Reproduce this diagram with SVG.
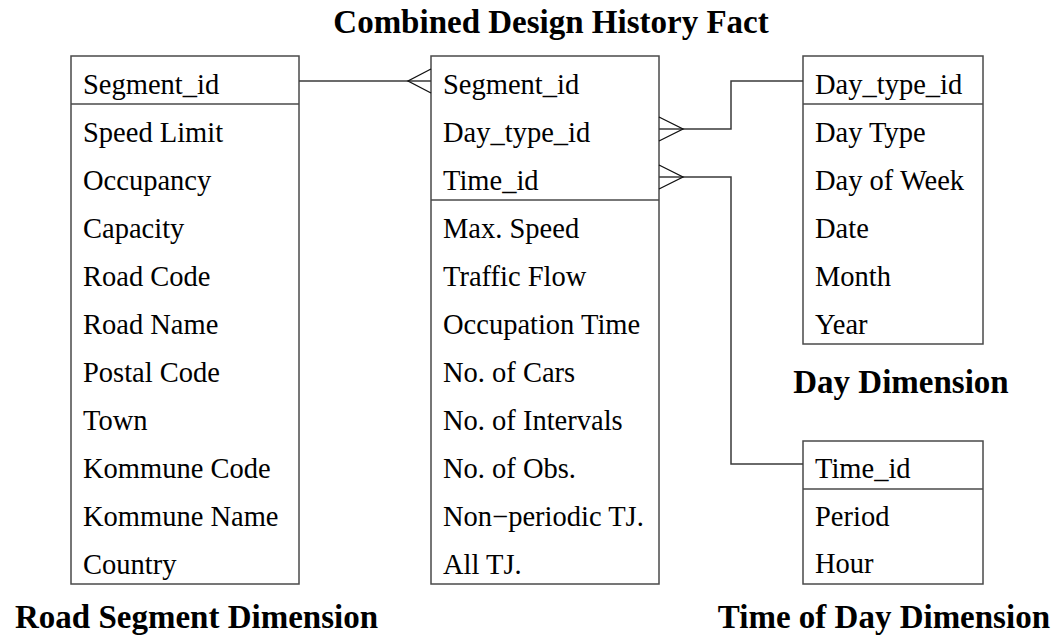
<svg xmlns="http://www.w3.org/2000/svg" width="1060" height="640" viewBox="0 0 1060 640">
  <style>
    .box { fill: #ffffff; stroke: #4a4a4a; stroke-width: 1.5; }
    .sep { stroke: #4a4a4a; stroke-width: 1.5; }
    .conn { fill: none; stroke: #3a3a3a; stroke-width: 1.5; }
    .crow { fill: none; stroke: #111111; stroke-width: 1.3; }
    .field { font-family: "Liberation Serif", "Times New Roman", serif; font-size: 28.5px; fill: #000; }
    .title { font-family: "Liberation Serif", "Times New Roman", serif; font-size: 33px; font-weight: bold; fill: #000; }
  </style>
  <rect width="1060" height="640" fill="#ffffff"/>

  <!-- Road Segment Dimension -->
  <g id="road-segment">
    <rect class="box" x="71" y="56" width="228" height="528"/>
    <line class="sep" x1="71" y1="104" x2="299" y2="104"/>
    <text class="field" x="83" y="94">Segment_id</text>
    <text class="field" x="83" y="142">Speed Limit</text>
    <text class="field" x="83" y="190">Occupancy</text>
    <text class="field" x="83" y="238">Capacity</text>
    <text class="field" x="83" y="286">Road Code</text>
    <text class="field" x="83" y="334">Road Name</text>
    <text class="field" x="83" y="382">Postal Code</text>
    <text class="field" x="83" y="430">Town</text>
    <text class="field" x="83" y="478">Kommune Code</text>
    <text class="field" x="83" y="526">Kommune Name</text>
    <text class="field" x="83" y="574">Country</text>
    <text class="title" x="15" y="628">Road Segment Dimension</text>
  </g>

  <!-- Combined Design History Fact -->
  <g id="history-fact">
    <text class="title" x="551" y="33" text-anchor="middle">Combined Design History Fact</text>
    <rect class="box" x="431" y="56" width="228" height="528"/>
    <line class="sep" x1="431" y1="200" x2="659" y2="200"/>
    <text class="field" x="443" y="94">Segment_id</text>
    <text class="field" x="443" y="142">Day_type_id</text>
    <text class="field" x="443" y="190">Time_id</text>
    <text class="field" x="443" y="238">Max. Speed</text>
    <text class="field" x="443" y="286">Traffic Flow</text>
    <text class="field" x="443" y="334">Occupation Time</text>
    <text class="field" x="443" y="382">No. of Cars</text>
    <text class="field" x="443" y="430">No. of Intervals</text>
    <text class="field" x="443" y="478">No. of Obs.</text>
    <text class="field" x="443" y="526">Non−periodic TJ.</text>
    <text class="field" x="443" y="574">All TJ.</text>
  </g>

  <!-- Day Dimension -->
  <g id="day-dimension">
    <rect class="box" x="803" y="56" width="180" height="288"/>
    <line class="sep" x1="803" y1="104" x2="983" y2="104"/>
    <text class="field" x="815" y="94">Day_type_id</text>
    <text class="field" x="815" y="142">Day Type</text>
    <text class="field" x="815" y="190">Day of Week</text>
    <text class="field" x="815" y="238">Date</text>
    <text class="field" x="815" y="286">Month</text>
    <text class="field" x="815" y="334">Year</text>
    <text class="title" x="901" y="393" text-anchor="middle">Day Dimension</text>
  </g>

  <!-- Time of Day Dimension -->
  <g id="time-of-day">
    <rect class="box" x="803" y="441" width="180" height="143"/>
    <line class="sep" x1="803" y1="489" x2="983" y2="489"/>
    <text class="field" x="815" y="478">Time_id</text>
    <text class="field" x="815" y="526">Period</text>
    <text class="field" x="815" y="573">Hour</text>
    <text class="title" x="1050" y="628" text-anchor="end">Time of Day Dimension</text>
  </g>

  <!-- one-to-many links with crow's feet on the fact side -->
  <g id="connectors">
    <line class="conn" x1="299" y1="81" x2="431" y2="81"/>
    <polyline class="crow" points="431,69 408,81 431,93"/>

    <polyline class="conn" points="659,129 731,129 731,81 803,81"/>
    <polyline class="crow" points="659,117 683,129 659,141"/>

    <polyline class="conn" points="659,177 731,177 731,464 803,464"/>
    <polyline class="crow" points="659,165 683,177 659,189"/>
  </g>
</svg>
